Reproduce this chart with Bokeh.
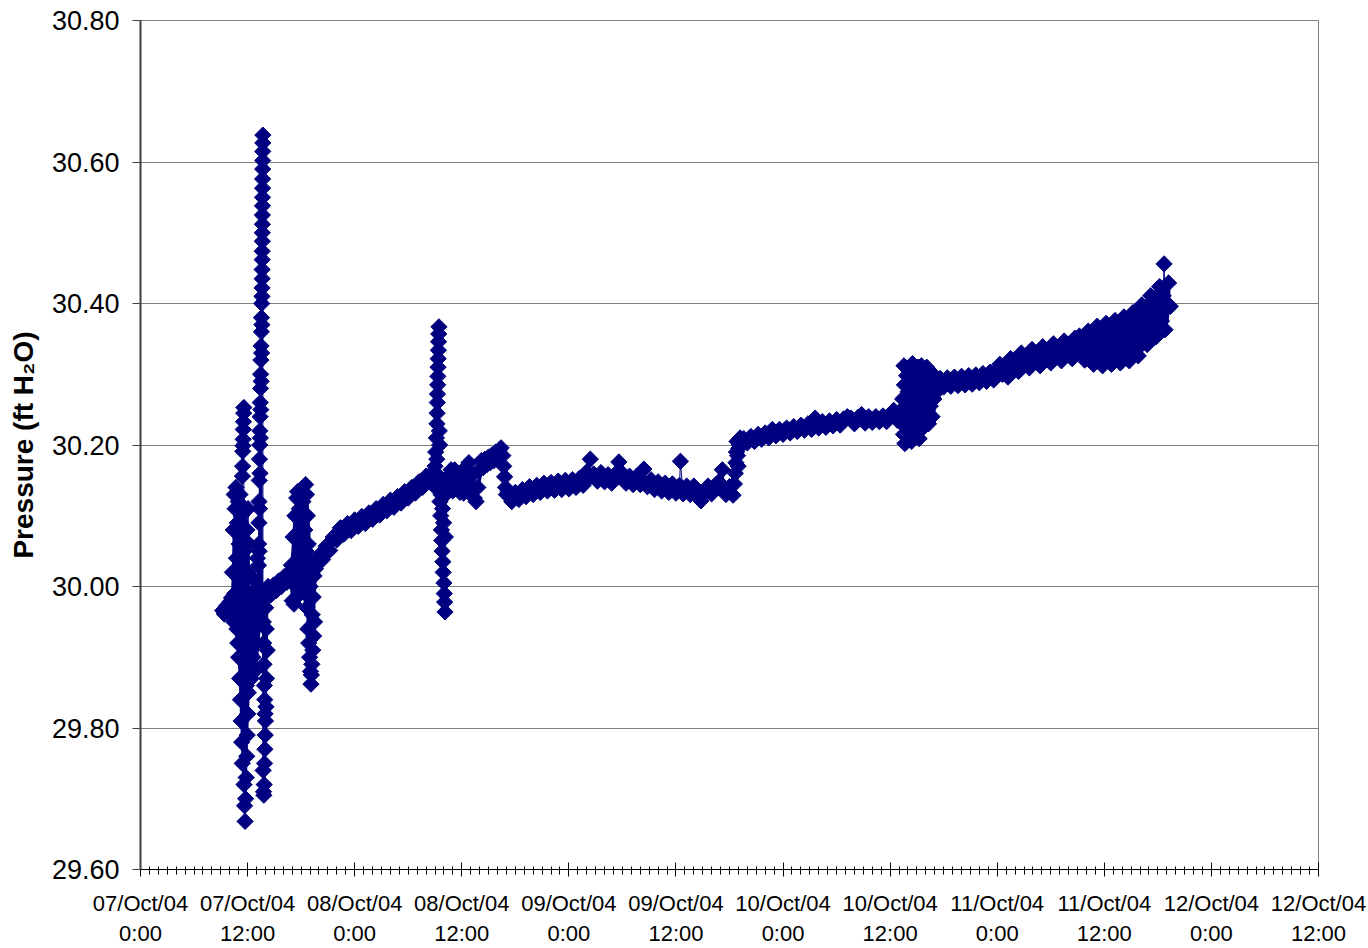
import math
from bokeh.plotting import figure
from bokeh.models import FixedTicker, Range1d, NumeralTickFormatter
from bokeh.embed import file_html
from bokeh.resources import INLINE

# ---- data: (hours after 07/Oct/04 0:00, pressure ft H2O) ----
start = [(9.2, 29.966), (9.4, 29.961), (9.6, 29.972), (9.8, 29.965), (10.0, 29.978), (10.2, 29.984)]

burst1 = [(10.30, 30.02), (10.35, 29.96), (10.40, 30.08), (10.45, 29.95), (10.50, 30.13), (10.55, 29.99),
          (10.60, 30.11), (10.65, 29.97), (10.70, 30.14), (10.75, 30.04), (10.80, 29.94), (10.85, 30.09),
          (10.90, 29.92), (10.95, 30.12), (11.00, 29.90), (11.05, 30.06), (11.10, 29.87), (11.15, 30.13),
          (11.20, 29.84), (11.25, 30.03), (11.28, 29.81), (11.31, 30.10), (11.34, 29.78), (11.37, 30.00),
          (11.40, 29.75), (11.42, 30.156), (11.44, 30.170), (11.46, 30.191), (11.48, 30.199), (11.50, 30.208),
          (11.52, 30.222), (11.54, 30.233), (11.56, 30.245), (11.58, 30.253), (11.60, 29.72), (11.63, 30.05),
          (11.66, 29.69), (11.69, 29.98), (11.72, 29.668), (11.75, 29.93), (11.78, 29.70), (11.81, 29.89),
          (11.84, 29.73), (11.87, 29.86), (11.90, 29.76), (11.93, 30.08), (11.96, 29.79), (11.99, 29.95),
          (12.02, 29.82), (12.05, 30.11), (12.08, 29.85), (12.11, 30.02), (12.14, 29.88), (12.17, 30.06),
          (12.20, 29.91), (12.25, 29.98), (12.30, 29.95), (12.40, 29.87), (12.50, 29.99), (12.60, 29.90),
          (12.70, 30.01), (12.80, 29.88), (12.90, 29.97), (13.00, 29.92), (13.10, 30.04)]

burst2 = [(13.20, 30.00), (13.21, 29.95), (13.22, 30.03), (13.24, 30.06), (13.25, 29.99), (13.27, 30.09),
          (13.28, 30.12), (13.30, 30.05), (13.31, 30.15), (13.33, 30.18), (13.34, 30.11), (13.36, 30.20),
          (13.37, 30.22), (13.39, 30.16), (13.40, 30.24), (13.42, 30.26), (13.43, 30.21), (13.45, 30.28),
          (13.46, 30.30), (13.48, 30.25), (13.49, 30.32), (13.51, 30.34), (13.52, 30.29), (13.54, 30.36),
          (13.55, 30.38), (13.57, 30.33), (13.58, 30.40), (13.60, 30.37), (13.61, 30.41),
          (13.62, 30.422), (13.63, 30.435), (13.63, 30.448), (13.64, 30.462), (13.64, 30.474), (13.65, 30.488),
          (13.65, 30.500), (13.66, 30.512), (13.66, 30.525), (13.67, 30.538), (13.67, 30.550), (13.68, 30.563),
          (13.68, 30.576), (13.69, 30.590), (13.69, 30.602), (13.70, 30.615), (13.70, 30.627), (13.71, 30.638),
          (13.72, 29.98), (13.74, 29.74), (13.76, 29.95), (13.78, 29.71), (13.80, 29.92), (13.82, 29.705),
          (13.84, 29.89), (13.86, 29.72), (13.88, 29.86), (13.90, 29.75), (13.92, 29.84), (13.94, 29.77),
          (13.96, 29.82), (13.98, 29.79), (14.00, 29.81), (14.03, 29.97), (14.06, 29.83), (14.09, 29.94),
          (14.12, 29.87), (14.15, 29.99), (14.20, 29.91),
          (14.3, 30.000), (14.6, 29.988), (14.9, 30.002), (15.2, 29.994), (15.5, 30.008), (15.8, 30.000),
          (16.1, 30.014), (16.4, 30.006), (16.7, 30.020)]

burst3 = [(16.90, 30.03), (17.00, 29.98), (17.10, 30.07), (17.20, 29.975), (17.30, 30.10), (17.40, 30.00),
          (17.50, 30.125), (17.60, 30.134), (17.70, 30.02), (17.80, 30.11), (17.90, 29.99), (18.00, 30.09),
          (18.10, 30.04), (18.20, 30.12), (18.30, 30.01), (18.40, 30.08), (18.50, 30.144), (18.55, 30.05),
          (18.60, 30.13), (18.65, 29.97), (18.70, 30.10), (18.75, 29.94), (18.80, 30.06), (18.85, 29.92),
          (18.90, 30.03), (18.95, 29.90), (19.00, 30.00), (19.05, 29.88), (19.10, 29.862), (19.15, 29.875),
          (19.20, 29.89), (19.25, 29.96), (19.30, 29.91), (19.35, 29.985), (19.40, 29.93), (19.45, 30.015),
          (19.50, 29.95), (19.60, 30.025), (19.70, 30.030), (19.80, 30.036)]

rise = [(20.0, 30.044), (20.4, 30.038), (20.8, 30.057), (21.2, 30.051), (21.6, 30.070), (22.0, 30.066),
        (22.4, 30.083), (22.8, 30.074), (23.2, 30.089), (23.6, 30.079), (24.0, 30.094), (24.4, 30.085),
        (24.8, 30.099), (25.2, 30.089), (25.6, 30.104), (26.0, 30.095), (26.4, 30.110), (26.8, 30.101),
        (27.2, 30.116), (27.6, 30.107), (28.0, 30.122), (28.4, 30.112), (28.8, 30.127), (29.2, 30.118),
        (29.6, 30.134), (30.0, 30.125), (30.4, 30.140), (30.8, 30.132), (31.2, 30.148), (31.6, 30.140),
        (32.0, 30.156), (32.3, 30.150)]

spike = [(32.6, 30.160), (32.8, 30.146), (33.00, 30.17), (33.04, 30.14), (33.08, 30.19), (33.12, 30.16),
         (33.16, 30.21), (33.20, 30.18), (33.22, 30.23), (33.24, 30.245), (33.26, 30.26), (33.28, 30.272),
         (33.30, 30.285), (33.32, 30.297), (33.34, 30.31), (33.36, 30.322), (33.38, 30.334), (33.40, 30.346),
         (33.42, 30.357), (33.44, 30.367), (33.48, 30.22), (33.52, 30.20), (33.56, 30.12), (33.60, 30.15),
         (33.64, 30.10), (33.68, 30.13), (33.72, 30.08), (33.76, 30.065), (33.80, 30.05), (33.84, 30.11),
         (33.88, 30.035), (33.92, 30.02), (33.96, 30.09), (34.00, 30.005), (34.04, 29.99), (34.08, 29.978),
         (34.12, 29.964), (34.16, 30.07), (34.20, 30.13), (34.40, 30.155), (34.60, 30.14), (34.80, 30.165)]

saw = [(35.0, 30.135), (35.2, 30.165), (35.4, 30.140), (35.6, 30.160), (35.8, 30.133), (36.0, 30.155),
       (36.2, 30.132), (36.4, 30.168), (36.6, 30.150), (36.8, 30.175), (37.0, 30.155), (37.2, 30.135),
       (37.4, 30.125), (37.6, 30.120), (37.8, 30.140), (38.0, 30.165), (38.2, 30.178), (38.4, 30.168),
       (38.6, 30.180), (38.8, 30.172), (39.0, 30.183), (39.2, 30.175), (39.4, 30.186), (39.6, 30.178),
       (39.8, 30.190), (40.0, 30.182), (40.2, 30.193), (40.4, 30.196), (40.6, 30.185), (40.7, 30.170),
       (40.8, 30.155), (40.9, 30.140), (41.0, 30.130)]

flat = [(41.2, 30.134), (41.6, 30.120), (42.0, 30.133), (42.4, 30.123), (42.8, 30.137), (43.2, 30.127),
        (43.6, 30.141), (44.0, 30.130), (44.4, 30.143), (44.8, 30.133), (45.2, 30.146), (45.6, 30.135),
        (46.0, 30.147), (46.4, 30.136), (46.8, 30.149), (47.2, 30.137), (47.6, 30.150), (48.0, 30.138),
        (48.4, 30.151), (48.8, 30.140), (49.2, 30.153), (49.6, 30.143), (50.0, 30.162), (50.4, 30.180),
        (50.8, 30.159), (51.2, 30.149), (51.6, 30.161), (52.0, 30.148), (52.4, 30.158), (52.8, 30.146),
        (53.2, 30.159), (53.6, 30.176), (54.0, 30.160), (54.4, 30.146), (54.8, 30.156), (55.2, 30.144),
        (55.6, 30.156), (56.0, 30.144), (56.4, 30.166), (56.8, 30.141), (57.2, 30.151), (57.6, 30.137),
        (58.0, 30.148), (58.4, 30.135), (58.8, 30.146), (59.2, 30.133), (59.6, 30.145), (60.0, 30.132),
        (60.4, 30.143), (60.5, 30.177), (60.8, 30.131), (61.2, 30.142), (61.6, 30.130), (62.0, 30.142),
        (62.4, 30.130), (62.8, 30.121), (63.2, 30.130), (63.6, 30.142), (64.0, 30.131), (64.4, 30.143),
        (64.8, 30.148), (65.2, 30.165), (65.6, 30.130), (66.0, 30.141), (66.4, 30.129)]

step = [(66.55, 30.145), (66.65, 30.160), (66.72, 30.175), (66.78, 30.190), (66.84, 30.205), (66.90, 30.185),
        (66.96, 30.170), (67.02, 30.195), (67.10, 30.200), (67.20, 30.210), (67.30, 30.203)]

climb = [(67.6, 30.209), (68.0, 30.203), (68.4, 30.212), (68.8, 30.205), (69.2, 30.215), (69.6, 30.208),
         (70.0, 30.217), (70.4, 30.210), (70.8, 30.222), (71.2, 30.213), (71.6, 30.222), (72.0, 30.215),
         (72.4, 30.224), (72.8, 30.217), (73.2, 30.226), (73.6, 30.219), (74.0, 30.228), (74.4, 30.221),
         (74.8, 30.230), (75.2, 30.222), (75.6, 30.238), (76.0, 30.224), (76.4, 30.233), (76.8, 30.225),
         (77.2, 30.234), (77.6, 30.227), (78.0, 30.236), (78.4, 30.228), (78.8, 30.237), (79.2, 30.240),
         (79.6, 30.238), (80.0, 30.230), (80.4, 30.239), (80.8, 30.243), (81.2, 30.231), (81.6, 30.240),
         (82.0, 30.232), (82.4, 30.240), (82.8, 30.233), (83.2, 30.241), (83.6, 30.233), (84.0, 30.242),
         (84.4, 30.249), (84.8, 30.235)]

burst4 = [(85.0, 30.245), (85.2, 30.232), (85.4, 30.265), (85.5, 30.215), (85.55, 30.312), (85.6, 30.285),
          (85.65, 30.202), (85.7, 30.255), (85.8, 30.225), (85.85, 30.298), (85.9, 30.240), (86.0, 30.275),
          (86.05, 30.210), (86.1, 30.305), (86.2, 30.250), (86.25, 30.220), (86.3, 30.290), (86.4, 30.205),
          (86.45, 30.265), (86.5, 30.315), (86.6, 30.235), (86.7, 30.280), (86.75, 30.212), (86.8, 30.300),
          (86.9, 30.245), (87.0, 30.270), (87.05, 30.220), (87.1, 30.310), (87.2, 30.260), (87.25, 30.209),
          (87.3, 30.290), (87.4, 30.235), (87.5, 30.312), (87.6, 30.250), (87.7, 30.280), (87.75, 30.225),
          (87.8, 30.300), (87.9, 30.260), (88.0, 30.240), (88.1, 30.310), (88.2, 30.275), (88.3, 30.230),
          (88.4, 30.295), (88.5, 30.255), (88.6, 30.280), (88.7, 30.240), (88.8, 30.300), (88.9, 30.265),
          (89.0, 30.285), (89.2, 30.275), (89.4, 30.290)]

tail1 = [(89.6, 30.294), (90.0, 30.282), (90.4, 30.295), (90.8, 30.283), (91.2, 30.296), (91.6, 30.284),
         (92.0, 30.297), (92.4, 30.285), (92.8, 30.298), (93.2, 30.286), (93.6, 30.299), (94.0, 30.288),
         (94.4, 30.301), (94.8, 30.290), (95.2, 30.303), (95.6, 30.292), (96.0, 30.306)]

tail2 = [(96.3, 30.314), (96.6, 30.300), (96.9, 30.310), (97.2, 30.296), (97.5, 30.322), (97.8, 30.308),
         (98.1, 30.318), (98.4, 30.304), (98.7, 30.330), (99.0, 30.315), (99.3, 30.324), (99.6, 30.309),
         (99.9, 30.335), (100.2, 30.319), (100.5, 30.328), (100.8, 30.312), (101.1, 30.339), (101.4, 30.323),
         (101.7, 30.332), (102.0, 30.316), (102.3, 30.343), (102.6, 30.327), (102.9, 30.335), (103.2, 30.319),
         (103.5, 30.347), (103.8, 30.329), (104.1, 30.340), (104.4, 30.322), (104.7, 30.351), (105.0, 30.333)]

tail3 = [(105.2, 30.354), (105.4, 30.330), (105.6, 30.347), (105.8, 30.320), (106.0, 30.339), (106.2, 30.361),
         (106.4, 30.327), (106.6, 30.352), (106.8, 30.314), (107.0, 30.340), (107.2, 30.368), (107.4, 30.326),
         (107.6, 30.356), (107.8, 30.312), (108.0, 30.342), (108.2, 30.372), (108.4, 30.328), (108.6, 30.358),
         (108.8, 30.314), (109.0, 30.345), (109.2, 30.376), (109.4, 30.330), (109.6, 30.362), (109.8, 30.316),
         (110.0, 30.348), (110.2, 30.381), (110.4, 30.334), (110.6, 30.368), (110.8, 30.319), (111.0, 30.352),
         (111.2, 30.387), (111.4, 30.338), (111.6, 30.374), (111.8, 30.326), (112.0, 30.362), (112.2, 30.398),
         (112.4, 30.352), (112.6, 30.387), (112.8, 30.342), (113.0, 30.377), (113.2, 30.411), (113.4, 30.365),
         (113.6, 30.400), (113.8, 30.353), (114.0, 30.388), (114.2, 30.424), (114.4, 30.375), (114.6, 30.411),
         (114.7, 30.456), (114.8, 30.363), (115.0, 30.398), (115.2, 30.429), (115.4, 30.396)]

# dense spread of the readings: (hours, lowest, highest) of the packed markers
spread = [(9.2, 29.961, 29.972), (9.8, 29.962, 29.975), (10.2, 29.970, 29.990), (10.35, 29.950, 30.080),
          (10.6, 29.930, 30.130), (10.8, 29.920, 30.140), (11.0, 29.870, 30.140), (11.2, 29.800, 30.140),
          (11.4, 29.730, 30.140), (11.6, 29.680, 30.120), (11.75, 29.668, 30.100), (11.9, 29.720, 30.100),
          (12.1, 29.800, 30.090), (12.3, 29.870, 30.000), (13.0, 29.880, 30.000), (13.2, 29.900, 30.050),
          (13.4, 29.930, 30.240), (13.6, 29.950, 30.400), (13.72, 29.740, 30.000), (13.85, 29.705, 29.980),
          (14.0, 29.720, 29.970), (14.15, 29.800, 29.990), (14.3, 29.986, 30.004), (15.5, 29.992, 30.010),
          (16.7, 30.004, 30.022), (16.9, 29.980, 30.050), (17.2, 29.975, 30.110), (17.6, 29.990, 30.134),
          (18.0, 29.990, 30.120), (18.5, 29.970, 30.144), (18.8, 29.920, 30.130), (19.1, 29.862, 30.060),
          (19.4, 29.930, 30.020), (19.8, 30.023, 30.042), (20.0, 30.034, 30.048), (21.0, 30.046, 30.062),
          (22.0, 30.062, 30.079), (23.0, 30.073, 30.090), (24.0, 30.080, 30.097), (25.0, 30.086, 30.102),
          (26.0, 30.093, 30.110), (27.0, 30.099, 30.116), (28.0, 30.108, 30.124), (29.0, 30.115, 30.132),
          (30.0, 30.123, 30.140), (31.0, 30.131, 30.148), (32.0, 30.141, 30.158), (32.8, 30.144, 30.162),
          (33.0, 30.140, 30.190), (33.5, 30.120, 30.200), (33.6, 30.100, 30.150), (34.0, 29.990, 30.130),
          (34.12, 29.964, 30.130), (34.2, 30.070, 30.140), (34.4, 30.140, 30.160), (35.0, 30.135, 30.165),
          (35.8, 30.132, 30.160), (36.4, 30.132, 30.168), (36.8, 30.150, 30.175), (37.2, 30.130, 30.155),
          (37.6, 30.120, 30.140), (38.0, 30.140, 30.165), (38.4, 30.165, 30.178), (39.0, 30.172, 30.183),
          (39.6, 30.178, 30.188), (40.2, 30.182, 30.195), (40.5, 30.185, 30.196), (40.8, 30.140, 30.170),
          (41.0, 30.126, 30.142), (41.6, 30.119, 30.135), (42.4, 30.121, 30.138), (43.2, 30.125, 30.142),
          (44.0, 30.128, 30.145), (45.0, 30.131, 30.148), (46.0, 30.133, 30.150), (47.0, 30.135, 30.152),
          (48.0, 30.136, 30.153), (49.0, 30.138, 30.155), (50.0, 30.141, 30.162), (51.0, 30.147, 30.162),
          (52.0, 30.145, 30.162), (53.0, 30.144, 30.161), (54.0, 30.144, 30.162), (55.0, 30.142, 30.158),
          (56.0, 30.142, 30.158), (57.0, 30.138, 30.153), (58.0, 30.133, 30.150), (59.0, 30.131, 30.148),
          (60.0, 30.130, 30.147), (61.0, 30.129, 30.144), (62.0, 30.128, 30.144), (63.0, 30.126, 30.144),
          (64.0, 30.129, 30.145), (65.0, 30.129, 30.150), (66.0, 30.128, 30.143), (66.5, 30.127, 30.147),
          (66.7, 30.135, 30.175), (66.85, 30.160, 30.205), (67.1, 30.185, 30.206), (67.4, 30.199, 30.211),
          (68.0, 30.202, 30.213), (69.0, 30.204, 30.216), (70.0, 30.208, 30.218), (71.0, 30.211, 30.223),
          (72.0, 30.214, 30.225), (73.0, 30.216, 30.227), (74.0, 30.219, 30.229), (75.0, 30.221, 30.231),
          (76.0, 30.223, 30.234), (77.0, 30.224, 30.235), (78.0, 30.226, 30.237), (79.0, 30.227, 30.239),
          (80.0, 30.229, 30.240), (81.0, 30.230, 30.241), (82.0, 30.231, 30.241), (83.0, 30.232, 30.242),
          (84.0, 30.232, 30.243), (84.8, 30.234, 30.246), (85.2, 30.225, 30.260), (85.5, 30.202, 30.310),
          (86.5, 30.205, 30.315), (87.5, 30.209, 30.312), (88.3, 30.225, 30.310), (89.0, 30.240, 30.300),
          (89.4, 30.275, 30.295), (89.6, 30.280, 30.296), (92.0, 30.283, 30.299), (94.0, 30.286, 30.303),
          (96.0, 30.290, 30.308), (97.0, 30.294, 30.322), (98.0, 30.302, 30.327), (99.0, 30.307, 30.332),
          (100.0, 30.309, 30.337), (101.0, 30.311, 30.341), (102.0, 30.314, 30.345), (103.0, 30.317, 30.347),
          (104.0, 30.320, 30.350), (105.0, 30.320, 30.354), (106.0, 30.318, 30.360), (107.0, 30.314, 30.367),
          (108.0, 30.312, 30.372), (109.0, 30.314, 30.376), (110.0, 30.316, 30.381), (111.0, 30.319, 30.387),
          (112.0, 30.326, 30.398), (113.0, 30.342, 30.411), (114.0, 30.353, 30.424), (114.8, 30.363, 30.429),
          (115.2, 30.375, 30.429), (115.4, 30.396, 30.420)]

x_ticks = [0, 12, 24, 36, 48, 60, 72, 84, 96, 108, 120, 132]
x_labels = ["07/Oct/04\n0:00", "07/Oct/04\n12:00", "08/Oct/04\n0:00", "08/Oct/04\n12:00",
            "09/Oct/04\n0:00", "09/Oct/04\n12:00", "10/Oct/04\n0:00", "10/Oct/04\n12:00",
            "11/Oct/04\n0:00", "11/Oct/04\n12:00", "12/Oct/04\n0:00", "12/Oct/04\n12:00"]
y_ticks = [29.6, 29.8, 30.0, 30.2, 30.4, 30.6, 30.8]

segments = [start, burst1, burst2, burst3, rise, spike, saw, flat, step, climb, burst4, tail1, tail2, tail3]
hours = [h for seg in segments for h, _ in seg]
press = [v for seg in segments for _, v in seg]
sp_h = [s[0] for s in spread]
sp_lo = [s[1] for s in spread]
sp_hi = [s[2] for s in spread]

NAVY = "#000080"
FONT = "Liberation Sans"

p = figure(width=1368, height=948, x_range=Range1d(0, 132), y_range=Range1d(29.6, 30.8),
           output_backend="svg", toolbar_location=None,
           min_border_left=140, min_border_right=50, min_border_top=20, min_border_bottom=77,
           background_fill_color="white", border_fill_color="white")

p.varea(x=sp_h, y1=sp_lo, y2=sp_hi, fill_color=NAVY, fill_alpha=1.0)
p.line(hours, press, line_color=NAVY, line_width=1)
p.scatter(hours, press, marker="square", angle=math.pi / 4, size=11.5,
          fill_color=NAVY, line_color=NAVY, line_width=1)

p.outline_line_color = "#808080"
p.outline_line_width = 1
p.xgrid.visible = False
p.ygrid.grid_line_color = "#808080"
p.ygrid.grid_line_width = 1

xa = p.xaxis[0]
xa.ticker = FixedTicker(ticks=x_ticks, minor_ticks=list(range(0, 133)))
xa.major_label_overrides = dict(zip(x_ticks, x_labels))
xa.major_label_text_font = FONT
xa.major_label_text_font_size = "22px"
xa.major_label_text_color = "black"
xa.major_label_text_line_height = 1.2
xa.major_label_standoff = 14
xa.major_tick_in = 7
xa.major_tick_out = 7
xa.minor_tick_in = 3
xa.minor_tick_out = 5
xa.axis_line_color = "black"
xa.major_tick_line_color = "black"
xa.minor_tick_line_color = "black"

ya = p.yaxis[0]
ya.ticker = FixedTicker(ticks=y_ticks)
ya.formatter = NumeralTickFormatter(format="0.00")
ya.major_label_text_font = FONT
ya.major_label_text_font_size = "27px"
ya.major_label_text_color = "black"
ya.major_label_standoff = 13
ya.major_tick_in = 0
ya.major_tick_out = 8
ya.minor_tick_line_color = None
ya.axis_line_color = "#404040"
ya.axis_line_width = 2
ya.major_tick_line_color = "#404040"
ya.axis_label = "Pressure (ft H\u2082O)"
ya.axis_label_text_font = FONT
ya.axis_label_text_font_style = "bold"
ya.axis_label_text_font_size = "28px"
ya.axis_label_text_color = "black"
ya.axis_label_standoff = 10

open("out.html", "w").write(file_html(p, INLINE, title="Pressure"))
